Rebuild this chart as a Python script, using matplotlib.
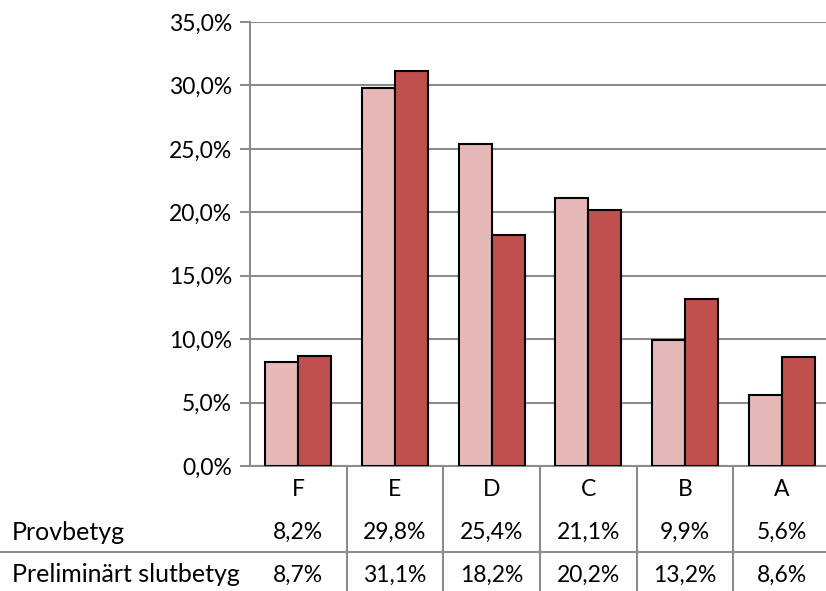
import matplotlib
matplotlib.use('Agg')
import matplotlib.pyplot as plt
import matplotlib.transforms as mtransforms
from matplotlib.lines import Line2D
from matplotlib.ticker import FuncFormatter, MultipleLocator
import numpy as np

plt.rcParams['font.family'] = ['Lato', 'DejaVu Sans']

grades = ['F', 'E', 'D', 'C', 'B', 'A']
series_names = ['Provbetyg', 'Preliminärt slutbetyg']
provbetyg = [8.2, 29.8, 25.4, 21.1, 9.9, 5.6]
slutbetyg = [8.7, 31.1, 18.2, 20.2, 13.2, 8.6]

light = '#E6B9B8'
dark = '#C0504D'
grey = '#8C8C8C'
fs = 16.5

fig = plt.figure(figsize=(8.26, 5.91), dpi=100)
ax = fig.add_axes([250 / 826, 1 - 466 / 591, 580 / 826, 444 / 591])

x = np.arange(len(grades))
w = 0.34
ax.bar(x - w / 2, provbetyg, w, color=light, edgecolor='black', linewidth=1.5, zorder=3)
ax.bar(x + w / 2, slutbetyg, w, color=dark, edgecolor='black', linewidth=1.5, zorder=3)

ax.set_xlim(-0.5, len(grades) - 0.5)
ax.set_ylim(0, 35)
ax.yaxis.set_major_locator(MultipleLocator(5))
ax.yaxis.set_major_formatter(FuncFormatter(lambda v, p: ('%.1f%%' % v).replace('.', ',')))
ax.grid(axis='y', color=grey, linewidth=1.5, zorder=0)
ax.tick_params(axis='y', length=7, width=1.5, color=grey, labelsize=fs, pad=6)
ax.set_xticks([])
for s in ['top', 'right']:
    ax.spines[s].set_visible(False)
for s in ['left', 'bottom']:
    ax.spines[s].set_color(grey)
    ax.spines[s].set_linewidth(1.5)

# data table under the chart
trans = mtransforms.blended_transform_factory(ax.transData, ax.transAxes)
h = 444
row_y = [-(490 - 466) / h, -(532 - 466) / h, -(575 - 466) / h]
for i, g in enumerate(grades):
    ax.text(i, row_y[0], g, transform=trans, ha='center', va='center', fontsize=fs, clip_on=False)
    ax.text(i, row_y[1], ('%.1f%%' % provbetyg[i]).replace('.', ','), transform=trans,
            ha='center', va='center', fontsize=fs, clip_on=False)
    ax.text(i, row_y[2], ('%.1f%%' % slutbetyg[i]).replace('.', ','), transform=trans,
            ha='center', va='center', fontsize=fs, clip_on=False)
for i in range(len(grades) - 1):
    ax.add_line(Line2D([i + 0.5, i + 0.5], [0, -125 / h], transform=trans, color=grey,
                       linewidth=1.5, clip_on=False))

fig.text(12 / 826, 1 - 532 / 591, series_names[0], ha='left', va='center', fontsize=18)
fig.text(12 / 826, 1 - 575 / 591, series_names[1], ha='left', va='center', fontsize=18)
fig.add_artist(Line2D([0, 1], [1 - 552 / 591, 1 - 552 / 591], transform=fig.transFigure,
                      color=grey, linewidth=1.5))

fig.savefig('out.png', dpi=100)
